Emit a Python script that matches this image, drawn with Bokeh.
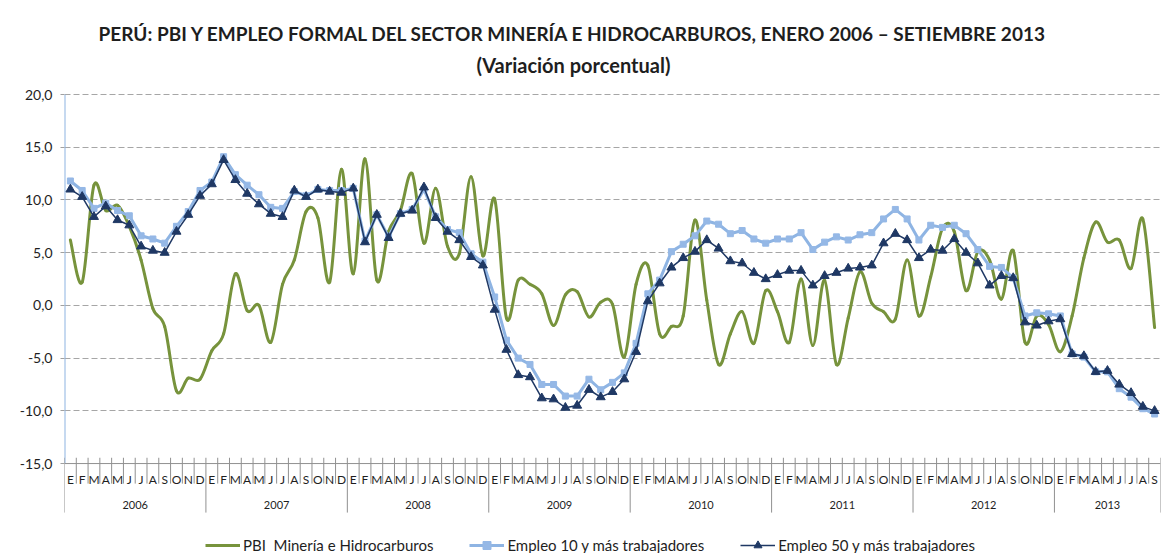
from bokeh.plotting import figure
from bokeh.models import Range1d, FixedTicker, Span, Legend, LegendItem, Title, ColumnDataSource
from bokeh.core.properties import value
from bokeh.embed import file_html
from bokeh.resources import INLINE

# ---------------- data ----------------
years = ["2006", "2007", "2008", "2009", "2010", "2011", "2012", "2013"]
month_letters = ["E", "F", "M", "A", "M", "J", "J", "A", "S", "O", "N", "D"]
y_ticks = [-15, -10, -5, 0, 5, 10, 15, 20]

pbi_mineria = [
    6.2, 2.2, 11.4, 9.0, 9.5, 7.5, 4.3, -0.3, -2.0, -8.1, -6.9, -7.0,
    -4.3, -2.7, 3.0, -0.5, 0.0, -3.5, 2.0, 4.3, 8.9, 8.3, 2.2, 12.9,
    3.0, 13.9, 2.4, 7.0, 9.0, 12.5, 5.9, 11.1, 5.6, 4.9, 12.2, 4.7,
    10.1, -1.2, 2.4, 2.0, 1.1, -1.9, 1.0, 1.3, -1.1, 0.3, 0.1, -4.9,
    2.0, 3.8, -2.7, -2.0, -1.0, 8.1, 0.5, -5.6, -2.7, -0.6, -3.6, 1.4,
    -0.6, -3.5, 2.5, -3.8, 2.4, -5.6, -1.2, 3.2, 0.2, -0.6, -1.3, 4.3,
    -1.0, 2.7, 7.3, 7.0, 1.4, 5.1, 4.3, 0.6, 5.2, -3.5, -1.0, -1.8,
    -4.4, -1.0, 4.5, 7.9, 6.0, 6.2, 3.5, 8.2, -2.1,
]
empleo_10 = [
    11.8, 10.9, 9.2, 9.7, 9.0, 8.5, 6.6, 6.3, 5.9, 7.5, 8.9, 10.9,
    11.7, 14.1, 12.4, 11.4, 10.5, 9.3, 9.2, 10.8, 10.4, 11.0, 10.9, 10.9,
    11.1, 6.1, 8.6, 6.5, 8.7, 9.1, 11.0, 8.4, 7.2, 6.9, 4.9, 4.1,
    0.8, -3.3, -5.0, -5.6, -7.5, -7.5, -8.6, -8.6, -7.0, -8.0, -7.3, -6.4,
    -3.6, 1.1, 2.4, 5.1, 5.8, 6.6, 8.0, 7.7, 6.8, 7.1, 6.3, 5.9,
    6.3, 6.3, 6.9, 5.3, 6.0, 6.5, 6.2, 6.7, 6.9, 8.2, 9.1, 8.2,
    6.2, 7.6, 7.4, 7.6, 6.8, 5.3, 3.7, 3.6, 2.6, -1.0, -0.7, -0.8,
    -1.0, -4.6, -4.9, -6.3, -6.3, -7.9, -8.7, -9.8, -10.3,
]
empleo_50 = [
    11.0, 10.3, 8.4, 9.4, 8.1, 7.6, 5.6, 5.2, 5.0, 7.0, 8.6, 10.4,
    11.5, 13.8, 11.9, 10.6, 9.6, 8.7, 8.4, 10.9, 10.3, 11.0, 10.8, 10.7,
    11.1, 6.0, 8.6, 6.4, 8.7, 9.0, 11.2, 8.3, 7.0, 6.2, 4.6, 3.8,
    -0.4, -4.2, -6.6, -6.8, -8.8, -8.9, -9.7, -9.5, -8.0, -8.7, -8.2, -7.0,
    -4.4, 0.4, 2.1, 3.6, 4.5, 5.1, 6.2, 5.4, 4.2, 4.0, 3.1, 2.5,
    2.9, 3.3, 3.3, 1.9, 2.8, 3.1, 3.5, 3.6, 3.8, 5.9, 6.8, 6.2,
    4.5, 5.3, 5.2, 6.3, 5.0, 4.0, 1.9, 2.8, 2.6, -1.6, -1.9, -1.5,
    -1.3, -4.6, -4.8, -6.3, -6.2, -7.5, -8.3, -9.6, -10.0,
]

# ---------------- derived ----------------
n = len(pbi_mineria)
xs = list(range(n))
month_labels = [month_letters[i % 12] for i in range(n)]
year_centers = [(12 * k + min(12 * k + 11, n - 1)) / 2 for k in range(len(years))]
month_bounds = [i + 0.5 for i in range(n - 1) if (i + 1) % 12 != 0]
year_bounds = [12 * k - 0.5 for k in range(len(years))] + [n - 0.5]

# smoothed (Excel-style) curve through the PBI points
bz = dict(x0=[], y0=[], x1=[], y1=[], cx0=[], cy0=[], cx1=[], cy1=[])
for i in range(n - 1):
    xa, ya = (xs[i - 1], pbi_mineria[i - 1]) if i > 0 else (xs[i], pbi_mineria[i])
    xb, yb = xs[i], pbi_mineria[i]
    xc, yc = xs[i + 1], pbi_mineria[i + 1]
    xd, yd = (xs[i + 2], pbi_mineria[i + 2]) if i + 2 < n else (xc, yc)
    bz["x0"].append(xb); bz["y0"].append(yb)
    bz["x1"].append(xc); bz["y1"].append(yc)
    bz["cx0"].append(xb + (xc - xa) / 6); bz["cy0"].append(yb + (yc - ya) / 6)
    bz["cx1"].append(xc - (xd - xb) / 6); bz["cy1"].append(yc - (yd - yb) / 6)

# ---------------- style ----------------
FONT = "Lato"
GREEN = "#77933C"
LBLUE = "#8EB4E3"
LBLUE_MK = "#95B8E6"
NAVY = "#1F3864"
TXT = "#1E1E1E"
Y_MIN, Y_MAX = -15, 20
Y_BOTTOM, Y_TOP = -23.53, 21.33

p = figure(width=1162, height=553, output_backend="svg", toolbar_location=None,
           x_range=Range1d(-0.5, n - 0.5), y_range=Range1d(Y_BOTTOM, Y_TOP),
           x_axis_location=None, min_border_left=64, min_border_right=2,
           min_border_top=80, min_border_bottom=0, title=None)
p.outline_line_color = None
p.background_fill_color = "white"
p.border_fill_color = "white"

p.add_layout(Title(text="(Variación porcentual)", align="left", offset=412,
                   text_font=FONT, text_font_size="20px", text_font_style="bold",
                   text_color=TXT, standoff=7), "above")
p.add_layout(Title(text="PERÚ: PBI Y EMPLEO FORMAL DEL SECTOR MINERÍA E HIDROCARBUROS, ENERO 2006 – SETIEMBRE 2013",
                   align="left", offset=34, text_font=FONT, text_font_size="19px",
                   text_font_style="bold", text_color=TXT, standoff=6), "above")

# y axis
ax = p.yaxis[0]
ax.ticker = FixedTicker(ticks=y_ticks)
ax.major_label_overrides = {t: f"{t:.1f}".replace(".", ",") for t in y_ticks}
ax.axis_line_color = None
ax.major_tick_line_color = "#A0A0A0"
ax.major_tick_out = 4
ax.major_tick_in = 0
ax.minor_tick_line_color = None
ax.major_label_text_font = FONT
ax.major_label_text_font_size = "14px"
ax.major_label_text_color = TXT
ax.major_label_standoff = 8

p.ygrid.ticker = FixedTicker(ticks=[t for t in y_ticks if t > Y_MIN])
p.ygrid.grid_line_color = "#A6A6A6"
p.ygrid.grid_line_dash = "6 3"
p.ygrid.grid_line_width = 1
p.xgrid.grid_line_color = None

# axis lines
p.segment(x0=[-0.5], y0=[Y_MIN], x1=[-0.5], y1=[Y_MAX], line_color="#8DB3E2", line_width=2)
p.add_layout(Span(location=Y_MIN, dimension="width", line_color="#909090", line_width=1))

# category axis: separators, month letters, years
p.segment(x0=month_bounds, y0=[Y_MIN + 0.55] * len(month_bounds),
          x1=month_bounds, y1=[Y_MIN - 1.9] * len(month_bounds),
          line_color="#909090", line_width=1)
p.segment(x0=year_bounds, y0=[Y_MIN + 0.55] * len(year_bounds),
          x1=year_bounds, y1=[Y_MIN - 4.65] * len(year_bounds),
          line_color="#909090", line_width=1)
p.text(x=xs, y=[Y_MIN] * n, text=month_labels, y_offset=16, text_align="center",
       text_baseline="middle", text_font=value(FONT), text_font_size="12px", text_color=TXT)
p.text(x=year_centers, y=[Y_MIN] * len(years), text=years, y_offset=41, text_align="center",
       text_baseline="middle", text_font=value(FONT), text_font_size="11px", text_color=TXT)

# series
p.bezier(source=ColumnDataSource(bz), x0="x0", y0="y0", x1="x1", y1="y1",
         cx0="cx0", cy0="cy0", cx1="cx1", cy1="cy1",
         line_color=GREEN, line_width=3, line_cap="round")
r_g = p.line(xs, [float("nan")] * n, line_color=GREEN, line_width=3)

r_l1 = p.line(xs, empleo_10, line_color=LBLUE, line_width=3)
r_l2 = p.scatter(xs, empleo_10, marker="square", size=6, fill_color=LBLUE_MK,
                 line_color=LBLUE_MK)
r_n1 = p.line(xs, empleo_50, line_color=NAVY, line_width=1.5)
r_n2 = p.scatter(xs, empleo_50, marker="triangle", size=9, fill_color=NAVY,
                 line_color=NAVY)

legend = Legend(items=[
    LegendItem(label="PBI  Minería e Hidrocarburos", renderers=[r_g]),
    LegendItem(label="Empleo 10 y más trabajadores", renderers=[r_l1, r_l2]),
    LegendItem(label="Empleo 50 y más trabajadores", renderers=[r_n1, r_n2]),
], orientation="horizontal", location=(141, -2))
legend.border_line_color = None
legend.background_fill_alpha = 0
legend.label_text_font = FONT
legend.label_text_font_size = "15px"
legend.label_text_color = TXT
legend.glyph_width = 35
legend.label_standoff = 3
legend.spacing = 36
legend.padding = 0
legend.margin = 0
p.add_layout(legend, "center")

open("out.html", "w").write(file_html(p, INLINE))
